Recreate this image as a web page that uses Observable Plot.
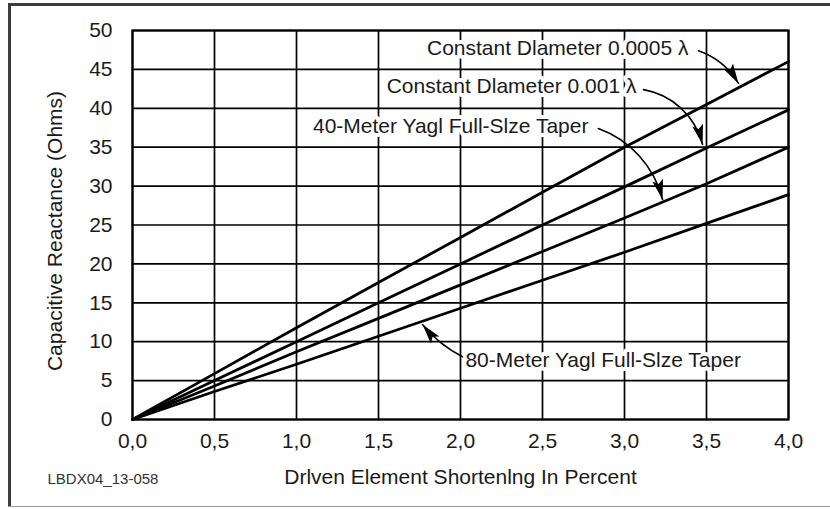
<!DOCTYPE html>
<html><head><meta charset="utf-8">
<script src="https://cdn.jsdelivr.net/npm/d3@7"></script>
<script src="https://cdn.jsdelivr.net/npm/@observablehq/plot@0.6"></script>
<style>
html,body{margin:0;padding:0;background:#fff;font-family:"Liberation Sans",Arial,sans-serif}
#wrap{position:relative;width:830px;height:509px;overflow:hidden;background:#fff}
#topline{position:absolute;left:8px;top:3px;width:822px;height:3px;background:#3c3c3c;z-index:3}
#leftline{position:absolute;left:8px;top:3px;width:3px;height:504px;background:#3c3c3c;z-index:3}
#bottomline{position:absolute;left:8px;top:506px;width:822px;height:1px;background:#9a9a9a;z-index:3}
#chart{position:absolute;left:0;top:0;z-index:1}
</style></head><body>
<div id="wrap"><div id="topline"></div><div id="leftline"></div><div id="bottomline"></div><div id="chart"></div></div>
<script>
// ---- data ----
const shortening = [0, 0.5, 1, 1.5, 2, 2.5, 3, 3.5, 4];
const diam0005 = [0, 5.9, 11.8, 17.6, 23.4, 29.2, 35.0, 40.5, 46.0];
const diam001  = [0, 5.0, 10.0, 15.0, 20.0, 25.0, 29.9, 34.9, 39.8];
const yagi40   = [0, 4.3, 8.7, 13.0, 17.3, 21.6, 25.9, 30.3, 35.0];
const yagi80   = [0, 3.6, 7.1, 10.7, 14.3, 17.9, 21.5, 25.2, 28.9];
const seriesNames = ["Constant Dlameter 0.0005 λ", "Constant Dlameter 0.001 λ", "40-Meter Yagl Full-Slze Taper", "80-Meter Yagl Full-Slze Taper"];
const seriesValues = [diam0005, diam001, yagi40, yagi80];

const xTicks = [0, 0.5, 1, 1.5, 2, 2.5, 3, 3.5, 4];
const xTickLabels = ["0,0", "0,5", "1,0", "1,5", "2,0", "2,5", "3,0", "3,5", "4,0"];
const yTicks = [0, 5, 10, 15, 20, 25, 30, 35, 40, 45, 50];

const xAxisLabel = "Drlven Element Shortenlng In Percent";
const yAxisLabel = "Capacitive Reactance (Ohms)";
const figureId = "LBDX04_13-058";

// annotation labels (data units)
const labelX = [3.39, 3.073, 2.78, 2.03];
const labelY = [47.7, 42.8, 37.66, 7.58];
const labelAnchor = ["end", "end", "end", "start"];
// arrows (data units)
const arrowX1 = [3.451, 3.116, 2.841, 2.018];
const arrowY1 = [47.4, 42.4, 37.4, 8.0];
const arrowX2 = [3.695, 3.476, 3.232, 1.768];
const arrowY2 = [43.2, 35.35, 28.28, 12.21];
const arrowBend = [20, 33, 28, 12];

// ---- tables ----
const lineData = seriesNames.flatMap((s, i) => shortening.map((x, j) => ({series: s, x, y: seriesValues[i][j]})));
const labels = seriesNames.map((s, i) => ({text: s, x: labelX[i], y: labelY[i], anchor: labelAnchor[i]}));
const arrows = seriesNames.map((s, i) => ({x1: arrowX1[i], y1: arrowY1[i], x2: arrowX2[i], y2: arrowY2[i], bend: arrowBend[i]}));

const headSymbol = {draw(ctx) { ctx.moveTo(0, 0); ctx.lineTo(-5.5, 20); ctx.lineTo(0, 16); ctx.lineTo(5.5, 20); ctx.closePath(); }};

const ink = "#1a1a1a";
const fam = "'Liberation Sans', Arial, sans-serif";

function build(heads) {
  return Plot.plot({
    width: 830, height: 509,
    marginLeft: 132, marginRight: 42, marginTop: 30, marginBottom: 90,
    style: {fontSize: "21px", fontFamily: fam, color: ink, background: "transparent"},
    x: {domain: [0, 4]},
    y: {domain: [0, 50]},
    marks: [
      Plot.gridX(xTicks, {stroke: "#000", strokeOpacity: 1, strokeWidth: 1.7}),
      Plot.gridY(yTicks, {stroke: "#000", strokeOpacity: 1, strokeWidth: 1.7}),
      Plot.frame({stroke: "#000", strokeWidth: 2.2}),
      Plot.axisX({ticks: xTicks, tickFormat: d => xTickLabels[xTicks.indexOf(d)], tickSize: 0, tickPadding: 14, label: null, fill: ink, fontSize: 21}),
      Plot.axisY({ticks: yTicks, tickSize: 0, tickPadding: 20, label: null, fill: ink, fontSize: 21}),
      Plot.line(lineData, {x: "x", y: "y", z: "series", stroke: "#000", strokeWidth: 2.8}),
      ...arrows.map(a => Plot.arrow([a], {x1: "x1", y1: "y1", x2: "x2", y2: "y2", bend: a.bend, headLength: 0, stroke: "#000", strokeWidth: 1.6})),
      Plot.text(labels.filter(d => d.anchor === "end"), {x: "x", y: "y", text: "text", textAnchor: "end", fontSize: 21, fill: ink, stroke: "white", strokeWidth: 8, paintOrder: "stroke"}),
      Plot.text(labels.filter(d => d.anchor === "start"), {x: "x", y: "y", text: "text", textAnchor: "start", fontSize: 21, fill: ink, stroke: "white", strokeWidth: 8, paintOrder: "stroke"}),
      Plot.dot(heads, {x: "x", y: "y", rotate: "rotate", symbol: headSymbol, r: 5, fill: "#000", stroke: "none"}),
      Plot.text([xAxisLabel], {frameAnchor: "bottom", dy: 58, textAnchor: "middle", lineAnchor: "middle", text: d => d, fontSize: 21, fill: ink}),
      Plot.text([yAxisLabel], {frameAnchor: "left", dx: -77, dy: 6, rotate: -90, textAnchor: "middle", lineAnchor: "middle", text: d => d, fontSize: 21, fill: ink}),
      Plot.text([figureId], {frameAnchor: "bottom-left", dx: -85, dy: 60, textAnchor: "start", lineAnchor: "middle", text: d => d, fontSize: 15, fill: "#333"})
    ]
  });
}

const probe = build([]);
const sx = probe.scale("x"), sy = probe.scale("y");
const heads = arrows.map(a => {
  const X1 = sx.apply(a.x1), Y1 = sy.apply(a.y1), X2 = sx.apply(a.x2), Y2 = sy.apply(a.y2);
  const phi = Math.atan2(Y2 - Y1, X2 - X1) * 180 / Math.PI + a.bend;
  return {x: a.x2, y: a.y2, rotate: phi + 90};
});
document.getElementById("chart").appendChild(build(heads));
</script>
</body></html>
